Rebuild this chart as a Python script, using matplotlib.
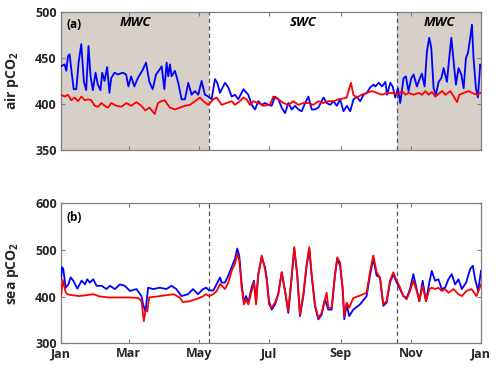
import matplotlib
matplotlib.use("Agg")
import matplotlib.pyplot as plt
import numpy as np

plt.rcParams['font.family'] = ['Open Sans', 'DejaVu Sans']
plt.rcParams['font.weight'] = 'bold'
plt.rcParams['mathtext.fontset'] = 'custom'
plt.rcParams['mathtext.rm'] = 'Open Sans:bold'
plt.rcParams['mathtext.bf'] = 'Open Sans:bold'
plt.rcParams['mathtext.it'] = 'Open Sans:bold:italic'

# ---------------- data ----------------
month_ticks = [0, 59, 120, 181, 243, 304, 365]
month_labels = ['Jan', 'Mar', 'May', 'Jul', 'Sep', 'Nov', 'Jan']
season_bounds = [128.6, 292]
season_labels = ['MWC', 'SWC', 'MWC']

air_blue_day = [0, 3.2, 4.6, 6.1, 7.5, 8.9, 11, 13.3, 15.3, 17.6, 19.9, 21.9, 23.9, 25.7, 27.7, 30, 32, 34.3,
                35.8, 37.8, 40.1, 42.1, 43.6, 46.5, 49.4, 53.7, 56.6, 58.6, 60.9, 63.8, 66.7, 71, 73.9, 76.8,
                79.7, 82.6, 85.5, 87.5, 89.8, 91.8, 93.2, 94.7, 96.1, 99, 101.9, 104.8, 107.7, 110.6, 113.5,
                116.4, 119.3, 122.2, 125.1, 128, 130.9, 133.8, 135.8, 138.1, 142.5, 145.4, 148.3, 151.2,
                154.1, 158.5, 162.8, 165.7, 168.6, 171.5, 174.4, 177.3, 180.2, 183.1, 186, 188.9, 191.8,
                194.7, 197.6, 200.5, 203.4, 206.3, 209.2, 212.1, 215, 217.9, 220.8, 223.7, 228.1, 231,
                233.9, 236.8, 239.7, 242.6, 245.5, 248.4, 251.3, 254.2, 257.1, 260, 262.9, 265.8, 268.7,
                271.6, 273.2, 276.1, 279, 281.9, 283.3, 286.2, 288.2, 290.5, 292.8, 294.8, 297.7, 299.7,
                302, 304.4, 306.4, 309.3, 311.3, 313.6, 316, 318, 320, 321.8, 323.8, 325.8, 328.2, 330.5,
                332.5, 335.4, 337.4, 339.2, 341.2, 343.2, 345.5, 347.9, 349.9, 351.9, 353.6, 356, 357.1,
                358.5, 360.6, 362.3, 364.3, 365]
air_blue = [441, 443, 436, 452, 454, 438, 416, 416, 445, 465, 424, 415, 463, 430, 415, 434, 421, 415,
            434, 425, 440, 412, 428, 434, 432, 434, 432, 419, 430, 419, 428, 437, 445, 424,
            416, 432, 437, 441, 416, 445, 430, 443, 430, 436, 423, 405, 405, 423, 410,
            414, 410, 425, 410, 408, 405, 427, 423, 412, 423, 418, 408, 410,
            405, 416, 410, 399, 394, 403, 399, 401, 399, 398, 408, 405, 396,
            390, 401, 394, 398, 394, 392, 401, 408, 394, 394, 396, 407, 401,
            399, 403, 398, 405, 392, 398, 392, 405, 408, 403, 410, 412, 418,
            421, 419, 423, 419, 424, 410, 423, 419, 407, 417, 401, 428, 430,
            414, 428, 432, 419, 426, 433, 419, 457, 472, 461, 417, 410, 424, 428,
            439, 424, 450, 472, 446, 421, 439, 432, 417, 450, 455, 475, 486,
            450, 417, 407, 443, 441]

air_red_day = [0, 3.2, 6.1, 8.9, 11.9, 14.8, 17.7, 20.6, 23.5, 26.4, 29.3, 32.2, 35.1, 38, 40.9, 43.7,
               48.1, 52.5, 56.8, 61.1, 65.5, 69.8, 73.3, 77, 81.4, 84.3, 87.2, 90, 94.7, 99, 103.4,
               107.7, 112.1, 116.4, 120.8, 123.7, 128, 132.4, 135.2, 139.6, 143.9, 148.3, 151.2,
               155.5, 158.4, 161.3, 164.2, 167.1, 171.5, 175.8, 181.6, 184.5, 188.9, 193.2, 197.6,
               201.9, 206.3, 210.6, 215, 219.3, 223.7, 228, 232.3, 236.7, 241, 245.4, 248.3, 250.3,
               252, 254.1, 257, 261.3, 265.7, 270, 274.6, 279, 283.3, 287.7, 292, 296.4, 299.3,
               302.2, 306.5, 310.9, 313.8, 316.7, 319.5, 322.4, 325.3, 328.2, 331.1, 334, 338.4,
               341.3, 344.2, 346.2, 350, 354.3, 357.2, 361.6, 364.5]
air_red = [410, 408, 410, 404, 407, 403, 408, 404, 405, 404, 398, 397, 401, 398, 396, 401,
           398, 397, 401, 398, 402, 398, 393, 396, 389, 401, 403, 404, 396, 394, 396,
           398, 399, 403, 407, 403, 399, 405, 407, 399, 401, 403, 399,
           403, 407, 405, 399, 403, 401, 398, 399, 408, 405, 401, 399,
           403, 399, 401, 401, 399, 403, 401, 403, 403, 405, 406, 407, 416,
           423, 410, 407, 410, 412, 414, 412, 410, 412, 412, 410, 414, 410,
           412, 410, 412, 410, 414, 410, 413, 408, 411, 414, 410, 414,
           408, 402, 410, 412, 414, 412, 410, 412]

sea_blue_day = [0, 0.9, 2, 4, 6.4, 8.4, 10.7, 14.2, 17.9, 20.8, 22.8, 25.1, 28, 30.9, 35.3, 39.6, 42.5,
                46.8, 51.2, 55.5, 59.8, 65.6, 69.9, 71.4, 73.4, 74.3, 75.7, 80.1, 85.8, 91.6, 96, 100.3,
                104.6, 110.4, 114.7, 119.1, 123.4, 126.3, 128.6, 132.4, 135.3, 138.2, 139.6, 142.5,
                145.4, 148.3, 151.2, 153.2, 154.9, 157, 159, 160.8, 162.8, 165.7, 167.7, 169.5, 171.4,
                174.4, 177.3, 178.7, 180.8, 183.1, 186, 188.8, 191.8, 194.7, 197.5, 200.5, 202.7,
                205.3, 207.7, 210.6, 213.5, 215.8, 217.8, 220.7, 223.6, 226.5, 229.4, 232.3, 235.2,
                238.1, 240.1, 242.5, 244.8, 246.2, 248.2, 250.5, 254, 259.8, 265.6, 268.5, 271.4,
                274.3, 277.2, 280.1, 283, 285.9, 288.8, 291.7, 294, 297.5, 300.4, 303.3, 306.2,
                309.1, 311.4, 314.3, 317.2, 320.1, 322.2, 325.1, 328, 330.9, 333.8, 336.7, 339.6,
                342.5, 345.4, 348.3, 352.1, 355.6, 357.9, 359.9, 362.5, 365]
sea_blue = [437, 463, 459, 419, 426, 441, 434, 417, 434, 426, 437, 430, 437, 423, 423, 416, 423,
            416, 426, 423, 412, 416, 401, 383, 368, 387, 419, 416, 419, 416, 423, 416,
            401, 405, 416, 405, 416, 419, 413, 413, 427, 441, 430, 430,
            445, 463, 481, 503, 488, 427, 387, 401, 387, 420, 434, 390, 448,
            484, 463, 441, 390, 372, 383, 405, 452, 412, 365, 441, 503,
            445, 358, 401, 466, 502, 445, 380, 351, 361, 394, 372, 372,
            445, 481, 466, 416, 351, 383, 358, 372, 383, 401, 445, 481,
            445, 441, 380, 387, 430, 448, 430, 419, 401, 397, 416, 448,
            416, 390, 434, 390, 430, 455, 434, 437, 416, 419, 437, 448,
            426, 437, 416, 430, 459, 466, 437, 412, 455]

sea_red_day = [0, 1.5, 4, 5.5, 9, 16, 22, 28, 34, 42, 51, 60, 67, 70, 72, 73.4, 75, 76.6, 83, 92, 98,
               103, 106, 112, 118, 123, 126, 128.6, 132.4, 135.3, 138.2, 142.5, 145.4, 148.3, 151.2,
               153.2, 155, 157, 159, 160.8, 162.8, 165.7, 167.7, 169.5, 171.4, 174.4, 177.3, 178.7,
               180.8, 183.1, 186, 188.8, 191.8, 194.7, 197.5, 200.5, 202.7, 205.3, 207.7, 210.6,
               213.5, 215.8, 217.8, 220.7, 223.6, 226.5, 229.4, 230.9, 232.3, 235.2, 238.1, 240.1,
               242.5, 244.8, 246.2, 248.2, 250.5, 254, 259.8, 265.6, 268.5, 271.4, 274.3, 277.2,
               280.1, 283, 285.9, 288.8, 291.7, 294, 297.5, 300.4, 303.3, 306.2, 309.1, 311.4,
               314.3, 317.2, 320.1, 322.2, 325.1, 328, 330.9, 333.8, 336.7, 341, 345.4, 348.3,
               352.4, 356.8, 361.1, 365]
sea_red = [400, 435, 410, 405, 403, 401, 403, 405, 400, 398, 398, 398, 397, 390, 347, 370, 368, 398,
           400, 403, 405, 398, 388, 390, 395, 400, 405, 401, 405, 412, 427, 416, 430, 455, 470,
           492, 477, 420, 383, 394, 383, 412, 430, 383, 445, 488, 459, 437,
           383, 376, 387, 405, 452, 412, 369, 445, 506, 448, 361, 405,
           470, 506, 448, 383, 354, 365, 394, 408, 376, 376, 448, 484,
           473, 416, 358, 387, 376, 397, 402, 408, 452, 488, 452, 441,
           383, 390, 434, 452, 434, 423, 401, 394, 412, 434, 412, 390,
           423, 390, 416, 419, 416, 419, 412, 416, 408, 416, 405, 401,
           412, 416, 401, 426]

# ---------------- plotting ----------------
fig = plt.figure(figsize=(5.0, 3.73), dpi=100)
ax1 = fig.add_axes([0.122, 0.598, 0.840, 0.370])
ax2 = fig.add_axes([0.122, 0.080, 0.840, 0.375])

shade = '#d6d0c8'
spine_c = '#7f7f7f'
text_c = '#262626'

for ax in (ax1, ax2):
    ax.set_xlim(month_ticks[0], month_ticks[-1])
    ax.set_xticks(month_ticks)
    ax.tick_params(direction='in', length=3, width=0.8, color=spine_c,
                   top=True, right=True, labelsize=9, labelcolor=text_c, pad=3)
    for s in ax.spines.values():
        s.set_color(spine_c)
        s.set_linewidth(0.9)
    for b in season_bounds:
        ax.axvline(b, color='#555555', lw=0.9, ls=(0, (3.5, 2.5)), zorder=3)

# panel (a)
ax1.axvspan(month_ticks[0], season_bounds[0], color=shade, lw=0, zorder=0)
ax1.axvspan(season_bounds[1], month_ticks[-1], color=shade, lw=0, zorder=0)
ax1.plot(air_blue_day, air_blue, color='#0000ff', lw=1.3, zorder=4)
ax1.plot(air_red_day, air_red, color='#ff0000', lw=1.3, zorder=5)
ax1.set_ylim(350, 500)
ax1.set_yticks([350, 400, 450, 500])
ax1.set_xticklabels([])
ax1.set_ylabel(r'air pCO$_\mathbf{2}$', fontsize=10, fontweight='bold', color=text_c)
ax1.yaxis.set_label_coords(-0.095, 0.5)
ax1.text(0.014, 0.912, '(a)', transform=ax1.transAxes, fontsize=8.5, fontweight='bold',
         va='center', ha='left', color='black')
centers = [(month_ticks[0] + season_bounds[0]) / 2,
           (season_bounds[0] + season_bounds[1]) / 2,
           (season_bounds[1] + month_ticks[-1]) / 2]
for cx, lab in zip(centers, season_labels):
    ax1.text(cx, 488, lab, fontsize=9.5, fontweight='bold', fontstyle='italic',
             ha='center', va='center', color='black')

# panel (b)
ax2.plot(sea_blue_day, sea_blue, color='#0000ff', lw=1.3, zorder=4)
ax2.plot(sea_red_day, sea_red, color='#ff0000', lw=1.3, zorder=5)
ax2.set_ylim(300, 600)
ax2.set_yticks([300, 400, 500, 600])
ax2.set_xticklabels(month_labels)
ax2.set_ylabel(r'sea pCO$_\mathbf{2}$', fontsize=10, fontweight='bold', color=text_c)
ax2.yaxis.set_label_coords(-0.095, 0.5)
ax2.text(0.014, 0.9, '(b)', transform=ax2.transAxes, fontsize=8.5, fontweight='bold',
         va='center', ha='left', color='black')

fig.savefig('out.png', dpi=100)
